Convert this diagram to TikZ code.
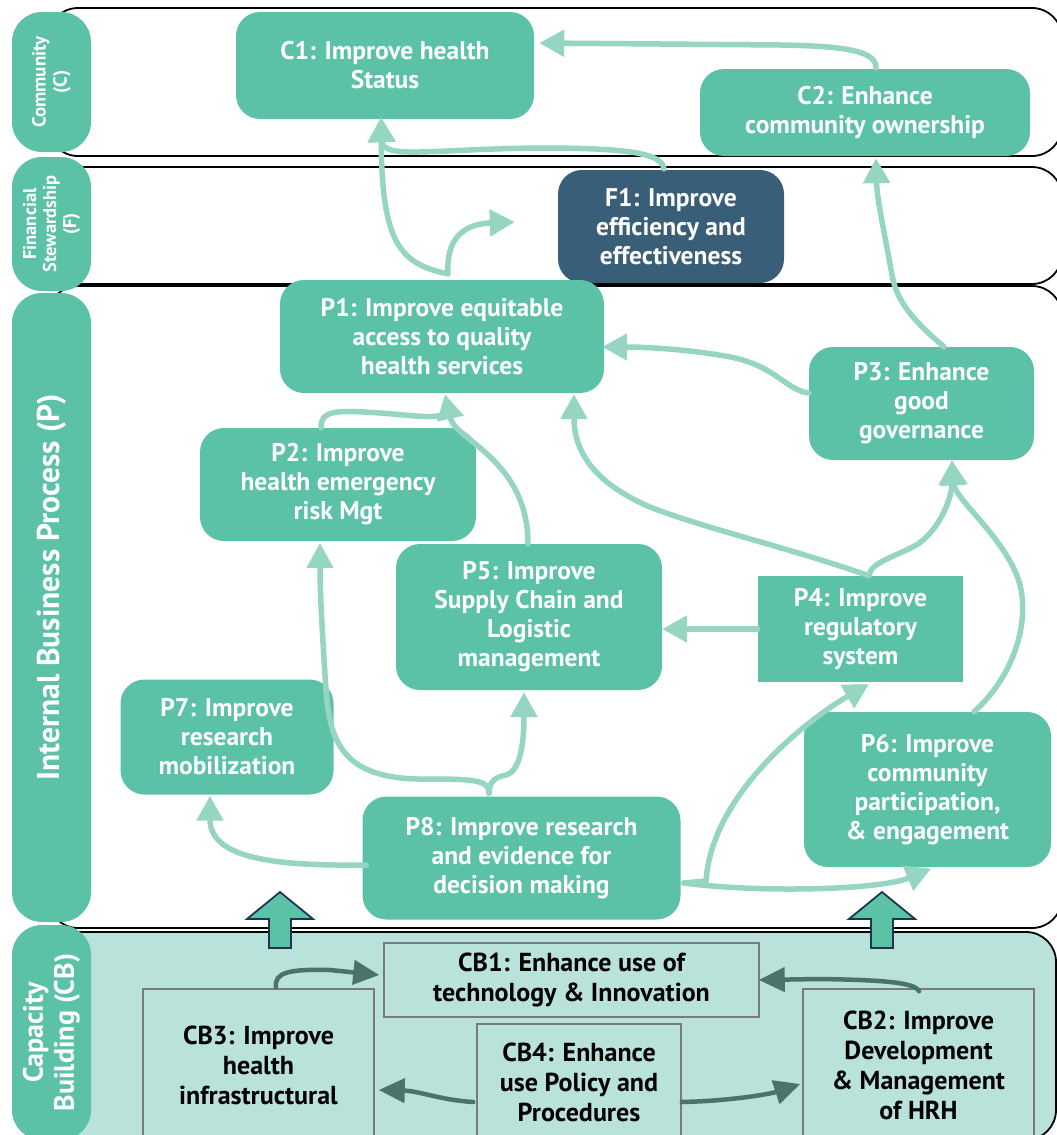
\documentclass[tikz,border=0pt]{standalone}
\usepackage{fontspec}
\setmainfont{PT Sans}
\usetikzlibrary{arrows.meta,calc}
\definecolor{goalgreen}{HTML}{5BC2A7}
\definecolor{linkgreen}{HTML}{97D5C3}
\definecolor{finblue}{HTML}{395F78}
\definecolor{cbfill}{HTML}{B8E2DA}
\definecolor{cbline}{HTML}{4B7367}
\definecolor{cbborder}{HTML}{7A7A7A}
\definecolor{arrowedge}{HTML}{1E3550}

\begin{document}
\begin{tikzpicture}[x=1pt, y=-1pt,
  band/.style={draw=black, line width=1.8pt, rounded corners=30pt},
  lane/.style={fill=goalgreen, text=white, rotate=90, rounded corners=30pt, align=center,
    inner sep=0pt, minimum height=79pt},
  goal/.style={fill=goalgreen, text=white, rounded corners=24pt, align=center, inner sep=0pt,
    font=\bfseries\fontsize{25.5}{29}\selectfont},
  cbbox/.style={fill=cbfill, draw=cbborder, line width=1.5pt, align=center, inner sep=0pt,
    font=\bfseries\fontsize{26}{30}\selectfont},
  link/.style={draw=linkgreen, line width=5.5pt, line cap=round, -{Triangle[length=25pt,width=26pt]}},
  cblink/.style={draw=cbline, line width=4.5pt, line cap=round, -{Triangle[length=26pt,width=24pt]}},
  bigarrow/.style={fill=goalgreen, draw=arrowedge, line width=1.8pt, line join=miter}]
  \useasboundingbox (0,0) rectangle (1057,1135);
  \clip (0,0) rectangle (1057,1135);

  \draw[band] (48,8) rectangle (1062,156);
  \draw[band] (48,167) rectangle (1062,284);
  \draw[band] (48,286) rectangle (1062,928);
  \draw[band, fill=cbfill] (48,932) rectangle (1056,1140);

  \node[lane, minimum width=140pt, font=\bfseries\fontsize{19}{21}\selectfont] (lc) at (51.5,82) {Community\\(C)};
  \node[lane, minimum width=134pt, font=\bfseries\fontsize{18.5}{20}\selectfont] (lf) at (51.5,224) {Financial\\Stewardship\\(F)};
  \node[lane, minimum width=629pt, font=\bfseries\fontsize{31.5}{34}\selectfont] (lp) at (51.5,607.5) {\hspace*{40pt}Internal Business Process (P)};
  \node[lane, minimum width=215pt, font=\bfseries\fontsize{28}{31}\selectfont] (lcb) at (51.5,1032.5) {Capacity\\Building (CB)};

  \node[goal, minimum width=298pt, minimum height=107pt] (c1) at (385,65.5) {C1: Improve health\\Status};
  \node[goal, minimum width=330pt, minimum height=87pt] (c2) at (865,112.5) {C2: Enhance\\community ownership};
  \node[goal, fill=finblue, minimum width=226pt, minimum height=113pt] (f1) at (671,226.5) {F1: Improve\\efficiency and\\effectiveness};
  \node[goal, minimum width=324pt, minimum height=113pt] (p1) at (442,336.5) {P1: Improve equitable\\access to quality\\health services};
  \node[goal, minimum width=276pt, minimum height=113pt] (p2) at (338,484.5) {P2: Improve\\health emergency\\risk Mgt};
  \node[goal, minimum width=225pt, minimum height=113pt] (p3) at (921.5,403.5) {P3: Enhance\\good\\governance};
  \node[goal, sharp corners, minimum width=205pt, minimum height=106pt] (p4) at (860.5,629) {P4: Improve\\regulatory\\system};
  \node[goal, minimum width=266pt, minimum height=146pt] (p5) at (529,617) {P5: Improve\\Supply Chain and\\Logistic\\management};
  \node[goal, minimum width=247pt, minimum height=155pt] (p6) at (927.5,789.5) {P6: Improve\\community\\participation,\\\& engagement};
  \node[goal, minimum width=213pt, minimum height=115pt] (p7) at (227,737) {P7: Improve\\research\\mobilization};
  \node[goal, minimum width=318pt, minimum height=123pt] (p8) at (521.5,858) {P8: Improve research\\and evidence for\\decision making};

  \node[cbbox, minimum width=375pt, minimum height=74pt] (cb1) at (571.5,980) {CB1: Enhance use of\\technology \& Innovation};
  \node[cbbox, minimum width=231pt, minimum height=152pt] (cb2) at (918.5,1065) {CB2: Improve\\Development\\\& Management\\of HRH};
  \node[cbbox, minimum width=231pt, minimum height=152pt] (cb3) at (258.5,1065) {CB3: Improve\\health\\infrastructural};
  \node[cbbox, minimum width=204pt, minimum height=116pt] (cb4) at (579,1082) {CB4: Enhance\\use Policy and\\Procedures};

  \coordinate (p1top) at ($(p1.north)+(6,-6)$);
  \coordinate (p4top) at ($(p4.north)+(8.5,0)$);
  \coordinate (p8top) at ($(p8.north)+(-32.5,-3)$);
  \coordinate (p8out) at ($(p8.east)+(3,25)$);
  \coordinate (f1in) at ($(f1.west)+(-43,-4.5)$);

  \draw[link] ($(c2.north)+(11,-1)$) .. controls (876,52) and (850,46) .. (780,45) -- ($(c1.east)+(5,-22.5)$);
  \draw[link] ($(f1.north)+(-7,-1)$) .. controls (662,152) and (620,148) .. (540,148)
    .. controls (430,149) and (383,160) .. ($(c1.south)+(-4,-2)$);
  \draw[link] (p1top) .. controls (398,264) and (382,240) .. ($(c1.south)+(-4,-2)$);
  \draw[link] (p1top) .. controls (446,240) and (462,224) .. (f1in);
  \draw[link] ($(p3.west)+(0,-10.5)$) .. controls (785,390) and (775,364) .. (725,356)
    .. controls (690,350) and (650,347) .. ($(p1.east)+(-2,10.5)$);
  \draw[link] ($(p3.north)+(22.5,0)$) .. controls (915,322) and (897,303) .. (892,275)
    .. controls (884,230) and (877,200) .. ($(c2.south)+(11,2)$);
  \draw[link] (p4top) .. controls (790,548) and (700,527) .. (650,507)
    .. controls (592,482) and (574,450) .. ($(p1.south)+(132,1)$);
  \draw[link] (p4top) .. controls (870,562) and (898,556) .. (918,544)
    .. controls (942,527) and (952,495) .. ($(p3.south)+(30.5,0)$);
  \draw[link] ($(p6.north)+(46.5,0)$) .. controls (1012,678) and (1030,625) .. (1020,585)
    .. controls (1008,540) and (955,500) .. ($(p3.south)+(30.5,0)$);
  \draw[link] (p4.west) -- (p4.west -| p5.east);
  \draw[link] ($(p5.north)+(-1,0)$) .. controls (528,460) and (455,440) .. ($(p1.south)+(3,1)$);
  \draw[link, -] ($(p2.north)+(-17,0)$) .. controls (321,410) and (335,410) .. (380,413)
    .. controls (420,416) and (440,420) .. ($(p1.south)+(7,18)$);
  \draw[link] ($(p8.west)+(4,7)$) .. controls (280,866) and (210,860) .. ($(p7.south)+(-17,1)$);
  \draw[link] (p8top) .. controls (489,781) and (478,779) .. (430,779)
    .. controls (345,781) and (330,745) .. (326,690)
    .. controls (322,630) and (320,590) .. ($(p2.south)+(-18,2)$);
  \draw[link] (p8top) .. controls (489,781) and (496,777) .. (506,775)
    .. controls (521,771) and (524,740) .. ($(p5.south)+(-5,2)$);
  \draw[link] (p8out) -- (706,881) .. controls (712,790) and (815,715) .. ($(p4.south)+(8.5,2)$);
  \draw[link] (p8out) .. controls (760,893) and (880,890) .. ($(p6.south)+(3.5,1.5)$);

  \draw[cblink] ($(cb3.north)+(17.5,-1)$) .. controls (274,972) and (290,969) .. (330,970) -- ($(cb1.west)+(-4,-5)$);
  \draw[cblink] ($(cb2.north)+(0.5,3)$) .. controls (915,982) and (880,980) .. (820,979) -- ($(cb1.east)+(-1,0)$);
  \draw[cblink] ($(cb4.west)+(-3,20)$) .. controls (440,1100) and (420,1091) .. ($(cb3.east)+(4,25)$);
  \draw[cblink] ($(cb4.east)+(0,20)$) .. controls (730,1101) and (770,1094) .. ($(cb2.west)+(-2,19)$);

  \foreach \bx in {280,882}
    \draw[bigarrow] ({\bx-11},948) -- ({\bx-11},919) -- ({\bx-33},919) -- (\bx,892)
      -- ({\bx+33},919) -- ({\bx+11},919) -- ({\bx+11},948) -- cycle;
\end{tikzpicture}
\end{document}
